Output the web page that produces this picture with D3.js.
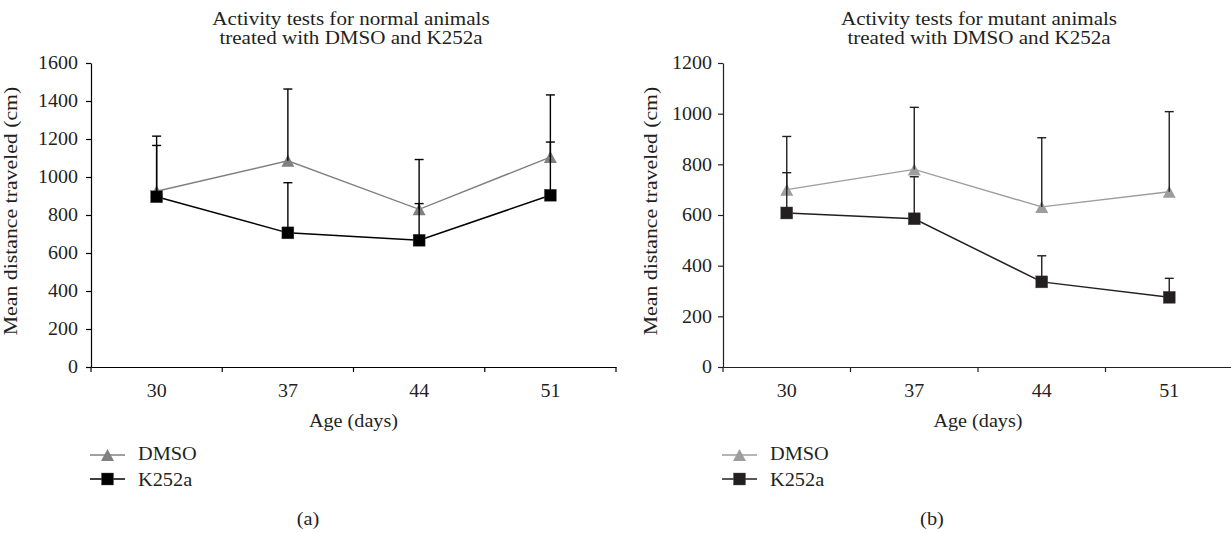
<!DOCTYPE html>
<html>
<head>
<meta charset="utf-8">
<script src="https://cdn.jsdelivr.net/npm/d3@7"></script>
<style>
  body { margin: 0; background: #fff; }
  svg text { font-family: "Liberation Serif", "Times New Roman", serif; font-size: 18px; fill: #231f20; }
</style>
</head>
<body>
<script>
// values (mean and upper error)
var days = ["30", "37", "44", "51"];

var normalDmso = [925, 1085, 830, 1105];
var normalDmsoErr = [290, 378, 262, 327];
var normalK252a = [896, 706, 667, 904];
var normalK252aErr = [270, 264, 193, 280];

var mutantDmso = [700, 780, 632, 692];
var mutantDmsoErr = [210, 245, 273, 316];
var mutantK252a = [608, 585, 336, 275];
var mutantK252aErr = [159, 166, 103, 75];

var normalTicks = d3.range(0, 1601, 200);
var mutantTicks = d3.range(0, 1201, 200);

var svg = d3.select("body").append("svg")
  .attr("width", 1231)
  .attr("height", 533);

// text in the figure is set wide; stretch it along its reading direction
function stretch(sel, k) {
  sel.each(function() {
    var w = this.getComputedTextLength();
    d3.select(this).attr("textLength", w * k).attr("lengthAdjust", "spacingAndGlyphs");
  });
}

function triangle(g, cx, cy, fill) {
  g.append("path")
    .attr("d", "M" + cx + "," + (cy - 6) + "L" + (cx + 6.5) + "," + (cy + 6) + "L" + (cx - 6.5) + "," + (cy + 6) + "Z")
    .attr("fill", fill);
}

function square(g, cx, cy, fill) {
  g.append("rect")
    .attr("x", cx - 6).attr("y", cy - 6)
    .attr("width", 12).attr("height", 12)
    .attr("fill", fill)
    .attr("stroke", "#555").attr("stroke-width", 0.4);
}

function drawPanel(p) {
  var g = svg.append("g");

  var x = d3.scaleBand().domain(days).range([p.left, p.right]);
  var y = d3.scaleLinear().domain([0, p.yMax]).range([367, 63]);

  // y axis
  g.append("g")
    .attr("transform", "translate(" + p.left + ",0)")
    .call(d3.axisLeft(y).tickValues(p.ticks).tickFormat(d3.format("d"))
      .tickSize(5).tickSizeOuter(0).tickPadding(p.tickPad));

  // x axis: labels at centres, ticks on the category borders
  var xAxis = g.append("g")
    .attr("transform", "translate(0,367)")
    .call(d3.axisBottom(x).tickSize(0).tickSizeOuter(0).tickPadding(17));
  xAxis.selectAll(".tick line").remove();
  xAxis.selectAll(".tick")
    .append("line")
    .attr("x1", -x.step() / 2).attr("x2", -x.step() / 2)
    .attr("y1", 0).attr("y2", 5);
  xAxis.append("line")
    .attr("x1", p.right).attr("x2", p.right)
    .attr("y1", 0).attr("y2", 5);

  g.selectAll(".domain, .tick line").attr("stroke", p.axisColor).attr("stroke-width", 1.2);
  xAxis.selectAll("line").attr("stroke", p.axisColor).attr("stroke-width", 1.2);

  var cx = function(i) { return x(days[i]) + x.bandwidth() / 2; };

  var line = d3.line()
    .x(function(d, i) { return cx(i); })
    .y(function(d) { return y(d); });

  g.append("path").datum(p.dmso)
    .attr("d", line).attr("fill", "none")
    .attr("stroke", p.dmsoColor).attr("stroke-width", 1.4);
  g.append("path").datum(p.k252a)
    .attr("d", line).attr("fill", "none")
    .attr("stroke", p.kColor).attr("stroke-width", 1.5);

  p.dmso.forEach(function(v, i) { triangle(g, cx(i), y(v), p.dmsoColor); });
  p.k252a.forEach(function(v, i) { square(g, cx(i), y(v), p.kColor); });

  // upper error bars
  [[p.dmso, p.dmsoErr], [p.k252a, p.kErr]].forEach(function(s) {
    s[0].forEach(function(v, i) {
      var top = y(v + s[1][i]);
      g.append("line")
        .attr("x1", cx(i)).attr("x2", cx(i))
        .attr("y1", y(v)).attr("y2", top)
        .attr("stroke", p.errColor).attr("stroke-width", 1.4);
      g.append("line")
        .attr("x1", cx(i) - 4.5).attr("x2", cx(i) + 4.5)
        .attr("y1", top).attr("y2", top)
        .attr("stroke", p.errColor).attr("stroke-width", 1.4);
    });
  });

  // titles and labels
  var mid = (p.left + p.right) / 2;
  var t1 = g.append("text").attr("x", p.titleX).attr("y", 25).attr("text-anchor", "middle").text(p.title[0]);
  var t2 = g.append("text").attr("x", p.titleX).attr("y", 44).attr("text-anchor", "middle").text(p.title[1]);
  stretch(t1, 1.17);
  stretch(t2, 1.17);

  var ax = g.append("text").attr("x", mid).attr("y", 427).attr("text-anchor", "middle").text("Age (days)");
  var yl = g.append("text")
    .attr("transform", "translate(" + p.yLabelX + ",211) rotate(-90)")
    .attr("text-anchor", "middle")
    .text("Mean distance traveled (cm)");
  stretch(yl, 1.21);

  // legend
  var lx = p.left - 1;
  g.append("line").attr("x1", lx).attr("x2", lx + 35).attr("y1", 455).attr("y2", 455)
    .attr("stroke", p.dmsoColor).attr("stroke-width", 1.4);
  triangle(g, lx + 17.5, 455, p.dmsoColor);
  g.append("line").attr("x1", lx).attr("x2", lx + 35).attr("y1", 479).attr("y2", 479)
    .attr("stroke", p.kColor).attr("stroke-width", 1.5);
  square(g, lx + 17.5, 479, p.kColor);
  var l1 = g.append("text").attr("x", lx + 48).attr("y", 460).text("DMSO");
  var l2 = g.append("text").attr("x", lx + 48).attr("y", 486).text("K252a");

  var tag = g.append("text").attr("x", p.tagX).attr("y", 525).attr("text-anchor", "middle").text(p.tag);

  stretch(g.selectAll(".tick text"), 1.11);
  stretch(ax, 1.12);
  stretch(l1, 1.13);
  stretch(l2, 1.13);
  stretch(tag, 1.13);
}

drawPanel({
  left: 91, right: 616, yMax: 1600, ticks: normalTicks, tickPad: 8,
  dmso: normalDmso, dmsoErr: normalDmsoErr, k252a: normalK252a, kErr: normalK252aErr,
  dmsoColor: "#808080", kColor: "#000000", errColor: "#000000", axisColor: "#000000",
  title: ["Activity tests for normal animals", "treated with DMSO and K252a"],
  titleX: 351, yLabelX: 17, tagX: 308, tag: "(a)"
});

drawPanel({
  left: 723, right: 1233, yMax: 1200, ticks: mutantTicks, tickPad: 6,
  dmso: mutantDmso, dmsoErr: mutantDmsoErr, k252a: mutantK252a, kErr: mutantK252aErr,
  dmsoColor: "#9d9d9d", kColor: "#231f20", errColor: "#231f20", axisColor: "#231f20",
  title: ["Activity tests for mutant animals", "treated with DMSO and K252a"],
  titleX: 979, yLabelX: 657, tagX: 932, tag: "(b)"
});
</script>
</body>
</html>
